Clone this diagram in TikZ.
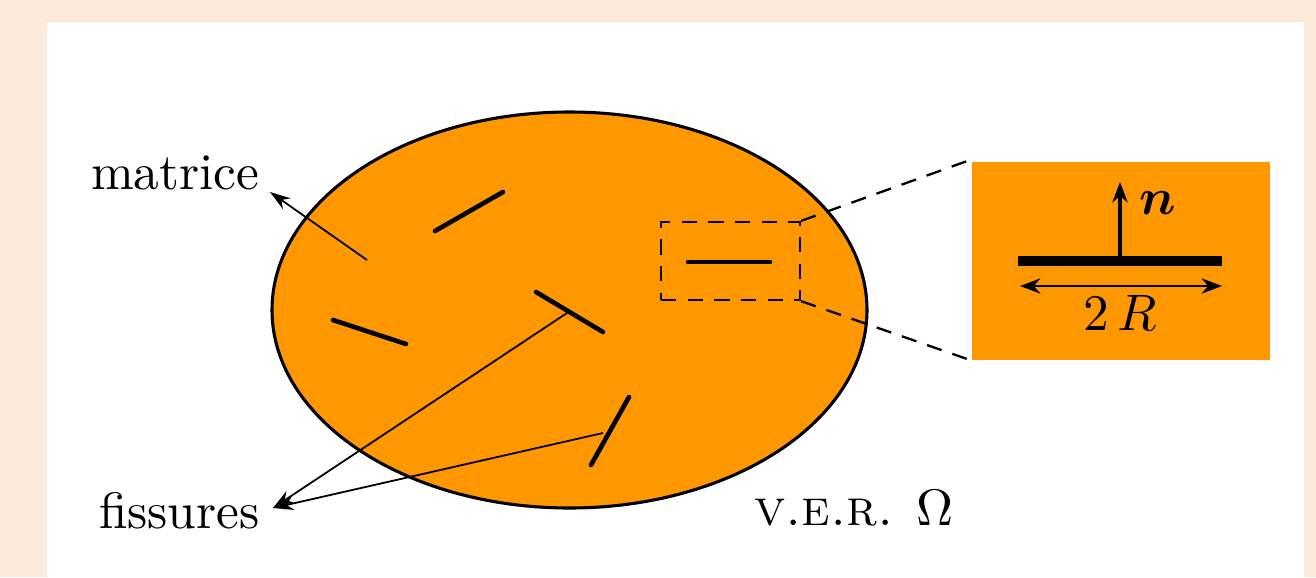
\documentclass[tikz,border=0pt]{standalone}
\usepackage{amsmath}
\usetikzlibrary{arrows.meta}
\definecolor{peach}{RGB}{253,234,218}
\definecolor{vorange}{RGB}{255,152,0}
\begin{document}
\begin{tikzpicture}[x=0.195pt,y=-0.195pt,
  crack/.style={line width=0.9pt,line cap=round},
  leader/.style={line width=0.35pt,-{Stealth[length=4pt,width=2.6pt]}},
  zoomline/.style={dashed,line width=0.45pt,dash pattern=on 3pt off 2.2pt},
  lbl/.style={inner sep=0pt,anchor=base west}]
\useasboundingbox (0,0) rectangle (1316,577);
\fill[peach] (0,0) rectangle (1316,577);
\fill[white] (47,22) rectangle (1304,577);
% ellipse (V.E.R.)
\draw[fill=vorange,line width=0.6pt] (569.5,310) ellipse [x radius=297.5,y radius=198];
% cracks
\draw[crack] (435,231) -- (503,192);
\draw[crack] (536,292) -- (603,332);
\draw[crack] (629,397) -- (591,465);
\draw[crack] (333,320) -- (406,344);
\draw[crack] (688,262) -- (770,262);
\coordinate (cB) at (567,313);
\coordinate (cC) at (603,433);
\coordinate (mstart) at (367,260);
% zoom box
\node[draw,zoomline,minimum width=139*0.195pt,minimum height=78*0.195pt,inner sep=0pt] (zb) at (730.5,261) {};
\fill[vorange] (972,162) rectangle (1270,360);
\coordinate (zt) at (970,160);
\coordinate (zbt) at (970,360);
\draw[zoomline] (zb.north east) -- (zt);
\draw[zoomline] (zb.south east) -- (zbt);
% crack detail
\draw[line width=2pt] (1018,261) -- (1222,261);
\coordinate (nb) at (1120,261);
\coordinate (nt) at (1120,182);
\draw[line width=0.6pt,-{Stealth[length=4pt,width=3pt]}] (nb) -- (nt);
\node[inner sep=0pt] (nl) at (1158,203) {$\boldsymbol{n}$};
\coordinate (ra) at (1020,286);
\coordinate (rb) at (1222,286);
\draw[line width=0.4pt,{Stealth[length=4pt,width=3pt]}-{Stealth[length=4pt,width=3pt]}] (ra) -- (rb);
\node[inner sep=0pt] (rl) at (1120,313) {$2\,R$};
% labels
\node[lbl] (mat) at (90,189) {matrice};
\node[lbl] (fis) at (98,528) {fissures};
\node[lbl] (ver) at (753,525) {\textsc{v.e.r.} $\Omega$};
\coordinate (mtip) at (270,192);
\coordinate (ftip) at (273,508);
\draw[leader] (mstart) -- (mtip);
\draw[leader] (cB) -- (ftip);
\draw[leader] (cC) -- (ftip);
\end{tikzpicture}
\end{document}
